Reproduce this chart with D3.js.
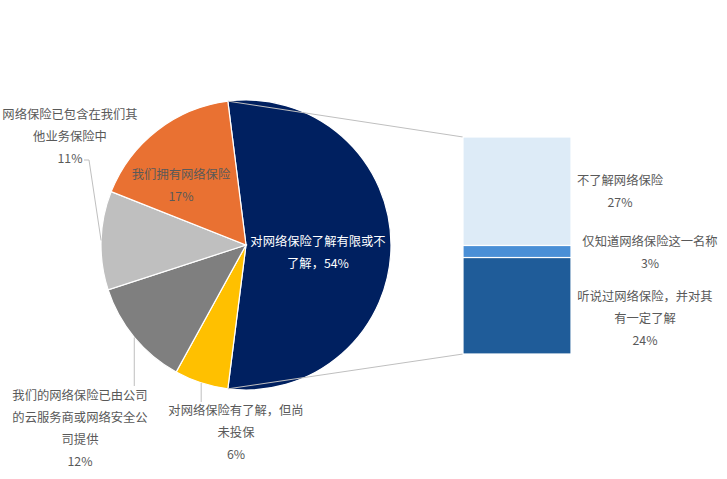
<!DOCTYPE html>
<html lang="zh">
<head>
<meta charset="UTF-8">
<title>网络保险</title>
<script src="https://cdnjs.cloudflare.com/ajax/libs/d3/7.8.2/d3.min.js"></script>
<style>
  html, body { margin: 0; padding: 0; background: #fff; }
  #chart { font-family: "Noto Sans CJK SC", "Noto Sans", sans-serif; }
</style>
</head>
<body>
<div id="chart"></div>
<script>
// pie slices, clockwise from the combined one
const pieNames = ["对网络保险了解有限或不了解", "对网络保险有了解，但尚未投保", "我们的网络保险已由公司的云服务商或网络安全公司提供", "网络保险已包含在我们其他业务保险中", "我们拥有网络保险"];
const pieValues = [54, 6, 12, 11, 17];
const pieColors = ["#002060", "#FFC000", "#7F7F7F", "#BFBFBF", "#E97132"];

// breakdown of the first slice, top to bottom
const barNames = ["不了解网络保险", "仅知道网络保险这一名称", "听说过网络保险，并对其有一定了解"];
const barValues = [27, 3, 24];
const barColors = ["#DDEBF7", "#4A8FD6", "#1F5C99"];

const width = 727, height = 479;
const cx = 246, cy = 245, r = 145;
const barX = 463, barW = 108, barTop = 137, barBottom = 354;

const svg = d3.select("#chart").append("svg")
    .attr("width", width)
    .attr("height", height);

// combined slice is centred on the right-hand side
const span = pieValues[0] / d3.sum(pieValues) * 2 * Math.PI;
const start = Math.PI / 2 - span / 2;

const pie = d3.pie().sort(null).value(d => d)
    .startAngle(start).endAngle(start + 2 * Math.PI);
const arcs = pie(pieValues);
const arc = d3.arc().innerRadius(0).outerRadius(r);

const g = svg.append("g").attr("transform", `translate(${cx},${cy})`);

// connector lines first, so they sit under the pie
const y = d3.scaleLinear().domain([0, d3.sum(barValues)]).range([barTop, barBottom]);
const edge = a => [cx + r * Math.sin(a), cy - r * Math.cos(a)];
const [tx, ty] = edge(arcs[0].startAngle);
const [bx, by] = edge(arcs[0].endAngle);
svg.append("line").attr("x1", tx).attr("y1", ty).attr("x2", barX).attr("y2", y(0))
    .attr("stroke", "#BFBFBF").attr("stroke-width", 1);
svg.append("line").attr("x1", bx).attr("y1", by).attr("x2", barX).attr("y2", y(d3.sum(barValues)))
    .attr("stroke", "#BFBFBF").attr("stroke-width", 1);

g.selectAll("path")
    .data(arcs)
    .enter().append("path")
    .attr("d", arc)
    .attr("fill", (d, i) => pieColors[i])
    .attr("stroke", "#fff")
    .attr("stroke-width", 1.2);

// stacked bar
const cum = d3.cumsum(barValues);
svg.append("g").selectAll("rect")
    .data(barValues)
    .enter().append("rect")
    .attr("x", barX)
    .attr("width", barW)
    .attr("y", (d, i) => y(cum[i] - d))
    .attr("height", d => y(d) - y(0))
    .attr("fill", (d, i) => barColors[i])
    .attr("stroke", "#fff")
    .attr("stroke-width", 1.2);

// labels
const fs = 12.3;
function label(lines, x, y0, color) {
    const t = svg.append("text")
        .attr("text-anchor", "middle")
        .attr("font-size", fs)
        .attr("fill", color || "#595959");
    lines.forEach((s, i) => {
        t.append("tspan").attr("x", x).attr("y", y0 + i * 22).text(s);
    });
}
const pct = v => v + "%";

label(["对网络保险了解有限或不", "了解，" + pct(pieValues[0])], 318, 246, "#fff");
label(["对网络保险有了解，但尚", "未投保", pct(pieValues[1])], 236, 415);
label(["我们的网络保险已由公司", "的云服务商或网络安全公", "司提供", pct(pieValues[2])], 80, 400);
label(["网络保险已包含在我们其", "他业务保险中", pct(pieValues[3])], 70, 119);
label(["我们拥有网络保险", pct(pieValues[4])], 181, 179);

label(["不了解网络保险", pct(barValues[0])], 620, 185);
label(["仅知道网络保险这一名称", pct(barValues[1])], 650, 246);
label(["听说过网络保险，并对其", "有一定了解", pct(barValues[2])], 645, 301);

// leader lines from slice edge to outside labels
const mid = d => (d.startAngle + d.endAngle) / 2;
const leader = d3.line();
const p1 = edge(mid(arcs[1])), p2 = edge(mid(arcs[2])), p3 = edge(mid(arcs[3]));
[
    [p1, [p1[0], 402]],
    [p2, [p2[0], 386]],
    [p3, [89, 160], [84, 160]]
].forEach(pts => {
    svg.append("path").attr("d", leader(pts))
        .attr("fill", "none").attr("stroke", "#BFBFBF").attr("stroke-width", 1);
});
</script>
</body>
</html>
